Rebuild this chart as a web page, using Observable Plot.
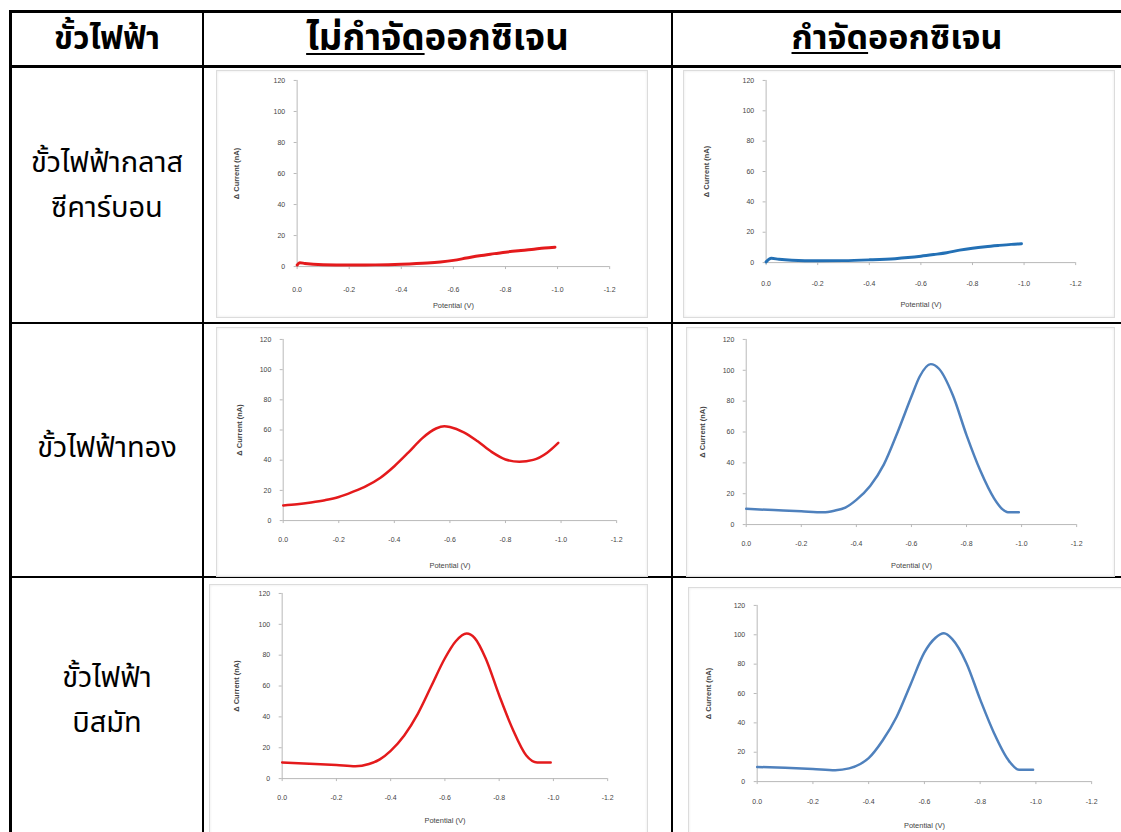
<!DOCTYPE html>
<html>
<head>
<meta charset="utf-8">
<script src="https://cdn.jsdelivr.net/npm/d3@7"></script>
<script src="https://cdn.jsdelivr.net/npm/@observablehq/plot@0.6"></script>
<style>
  html, body { margin: 0; padding: 0; background: #fff; }
  body { width: 1121px; height: 832px; overflow: hidden; position: relative; }
  .ln { position: absolute; background: #000; }
  .hd { position: absolute; font-family: "Noto Sans Thai", "Noto Sans", "DejaVu Sans", sans-serif; font-weight: bold; color: #000; text-align: center; white-space: nowrap; height: 54px; line-height: 54px; }
  .hd u { text-decoration-thickness: 2px; text-underline-offset: 3px; }
  .rl { position: absolute; font-family: "Noto Sans Thai", "Noto Sans", "DejaVu Sans", sans-serif; font-size: 29px; color: #000; text-align: center; white-space: nowrap; line-height: 40px; height: 40px; }
  .chart { position: absolute; border: 1px solid #dcdcdc; box-shadow: inset 0 0 3px #e8e8e8; background: #fff; }
  .chart svg { display: block; }
  .chart [aria-label="y-axis label"] text { font-weight: bold; font-size: 7.5px; }
  .chart [aria-label="x-axis label"] text { font-size: 7.5px; }
</style>
</head>
<body>
<div id="root"></div>
<script>
// ---- Data ----
const headers = ["ขั้วไฟฟ้า", "ไม่กำจัด", "ออกซิเจน", "กำจัด", "ออกซิเจน"];
const electrodes = [["ขั้วไฟฟ้ากลาส", "ซีคาร์บอน"], ["ขั้วไฟฟ้าทอง"], ["ขั้วไฟฟ้า", "บิสมัท"]];
const xTicks = [0, -0.2, -0.4, -0.6, -0.8, -1.0, -1.2];
const yTicks = [0, 20, 40, 60, 80, 100, 120];
const xLabel = "Potential (V)";
const yLabel = "Δ Current (nA)";

// Glassy carbon, without O2 removal
const gcAirV = [0, -0.01, -0.03, -0.1, -0.2, -0.3, -0.4, -0.5, -0.55, -0.6, -0.65, -0.7, -0.75, -0.8, -0.85, -0.9, -0.95, -0.99];
const gcAirI = [1, 2.5, 2, 1.2, 1, 1.1, 1.5, 2.3, 3, 4, 5.5, 7, 8.2, 9.3, 10.2, 11, 12, 12.5];
// Glassy carbon, O2 removed
const gcN2V = [0, -0.02, -0.05, -0.1, -0.2, -0.3, -0.4, -0.5, -0.55, -0.6, -0.65, -0.7, -0.75, -0.8, -0.85, -0.9, -0.95, -0.99];
const gcN2I = [0.5, 2.8, 2.2, 1.6, 1.2, 1.3, 1.8, 2.6, 3.3, 4.2, 5.3, 6.5, 8.2, 9.5, 10.5, 11.3, 12, 12.4];
// Gold, without O2 removal
const auAirV = [0, -0.05, -0.1, -0.15, -0.2, -0.25, -0.3, -0.35, -0.4, -0.45, -0.5, -0.55, -0.58, -0.6, -0.65, -0.7, -0.75, -0.8, -0.85, -0.9, -0.95, -0.99];
const auAirI = [10, 10.8, 12, 13.5, 15.6, 19, 23, 28.4, 36, 45, 54.5, 61, 62.5, 62, 58.5, 52.5, 45.5, 40.5, 39, 40.2, 45, 51.5];
// Gold, O2 removed
const auN2V = [0, -0.1, -0.2, -0.28, -0.32, -0.36, -0.4, -0.45, -0.5, -0.55, -0.6, -0.63, -0.67, -0.7, -0.75, -0.8, -0.85, -0.9, -0.93, -0.95, -0.99];
const auN2I = [10.2, 9.4, 8.6, 8, 9, 11, 16, 25, 39, 60, 83, 96, 104, 101, 84, 58, 35, 17, 10, 8, 8];
// Bismuth, without O2 removal
const biAirV = [0, -0.1, -0.2, -0.27, -0.32, -0.36, -0.4, -0.45, -0.5, -0.55, -0.6, -0.64, -0.68, -0.71, -0.75, -0.8, -0.85, -0.9, -0.94, -0.96, -0.99];
const biAirI = [10.5, 9.7, 8.8, 8, 9.5, 12.5, 18, 28, 42, 60, 78, 89, 94, 91, 78, 54, 32, 15, 10.5, 10.5, 10.5];
// Bismuth, O2 removed
const biN2V = [0, -0.1, -0.2, -0.28, -0.33, -0.37, -0.4, -0.45, -0.5, -0.55, -0.6, -0.64, -0.67, -0.7, -0.75, -0.8, -0.85, -0.9, -0.94, -0.96, -0.99];
const biN2I = [10, 9.4, 8.6, 7.8, 9, 12, 16, 28, 44, 66, 88, 98, 101, 97, 81, 56, 33, 15, 8, 8, 8];

const red = "#e41a1c";
const blueDark = "#2370b5";
const blue = "#4f81bd";

// ---- Layout ----
const root = document.getElementById("root");
function line(x, y, w, h) {
  const d = document.createElement("div");
  d.className = "ln";
  Object.assign(d.style, {left: x + "px", top: y + "px", width: w + "px", height: h + "px"});
  root.appendChild(d);
}
function text(cls, x, y, w, html, size) {
  const d = document.createElement("div");
  d.className = cls;
  Object.assign(d.style, {left: x + "px", top: y + "px", width: w + "px"});
  if (size) d.style.fontSize = size + "px";
  d.innerHTML = html;
  root.appendChild(d);
  return d;
}

// table lines
line(9, 10, 1120, 3);
line(9, 65, 1120, 3);
line(9, 322, 1120, 2);
line(9, 576, 1120, 2);
line(9, 10, 3, 830);
line(202, 10, 2, 830);
line(671, 10, 2, 830);

// headers
text("hd", 12, 12, 190, headers[0], 32);
text("hd", 204, 12, 467, "<u>" + headers[1] + "</u>" + headers[2], 36.5);
text("hd", 673, 12, 448, "<u>" + headers[3] + "</u>" + headers[4], 34);

// row labels (one div per line)
const rowTops = [[143, 188], [428], [658, 703]];
electrodes.forEach((lines, r) => {
  lines.forEach((t, k) => text("rl", 12, rowTops[r][k], 190, t));
});

const charts = [
  {v: gcAirV, i: gcAirI, color: red, sw: 3, box: [216, 70, 432, 248], m: [10, 37, 51, 81], tp: 18, xo: 42, yo: 64},
  {v: gcN2V, i: gcN2I, color: blueDark, sw: 3, box: [683, 70, 432, 248], m: [10, 38, 55, 83], tp: 16, xo: 45, yo: 63},
  {v: auAirV, i: auAirI, color: red, sw: 2.5, box: [216, 327, 432, 250], m: [12, 30, 56, 67], tp: 14, xo: 48, yo: 47},
  {v: auN2V, i: auN2I, color: blue, sw: 2.5, box: [686, 327, 429, 250], m: [12, 37, 52, 60], tp: 14, xo: 44, yo: 47},
  {v: biAirV, i: biAirI, color: red, sw: 2.5, box: [209, 584, 439, 252], m: [9, 39, 57, 73], tp: 14, xo: 45, yo: 49},
  {v: biN2V, i: biN2I, color: blue, sw: 2.5, box: [688, 587, 436, 252], m: [18, 31, 57, 69], tp: 15, xo: 47, yo: 52}
];

for (const c of charts) {
  const data = c.v.map((v, k) => ({v, i: c.i[k]}));
  const [left, top, w, h] = c.box;
  const [mt, mr, mb, ml] = c.m;
  const plot = Plot.plot({
    width: w, height: h,
    marginTop: mt, marginRight: mr, marginBottom: mb, marginLeft: ml,
    style: {background: "transparent", fontFamily: "'Liberation Sans', Arial, sans-serif", fontSize: "7px", color: "#444"},
    x: {domain: [0, -1.2]},
    y: {domain: [0, 120]},
    marks: [
      Plot.ruleY([0], {stroke: "#b8b8b8"}),
      Plot.ruleX([0], {stroke: "#b8b8b8"}),
      Plot.axisX({ticks: xTicks, tickFormat: d => d.toFixed(1), tickSize: 3, tickPadding: c.tp, stroke: "#b8b8b8", fill: "#444",
        label: xLabel, labelAnchor: "center", labelOffset: c.xo, labelArrow: "none"}),
      Plot.axisY({ticks: yTicks, tickSize: 3, tickPadding: 9, stroke: "#b8b8b8", fill: "#444",
        label: yLabel, labelAnchor: "center", labelOffset: c.yo, labelArrow: "none"}),
      Plot.line(data, {x: "v", y: "i", stroke: c.color, strokeWidth: c.sw, curve: "monotone-x"})
    ]
  });
  const box = document.createElement("div");
  box.className = "chart";
  Object.assign(box.style, {left: left + "px", top: top + "px", width: (w - 2) + "px", height: (h - 2) + "px", overflow: "hidden"});
  plot.style.marginLeft = "-1px";
  plot.style.marginTop = "-1px";
  box.appendChild(plot);
  root.appendChild(box);
}
</script>
</body>
</html>
